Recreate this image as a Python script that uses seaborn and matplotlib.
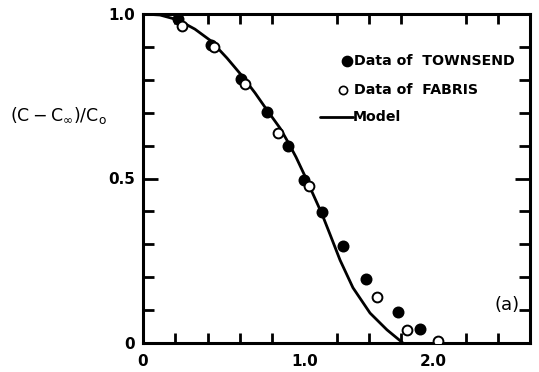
import matplotlib
matplotlib.use("Agg")
import matplotlib.pyplot as plt
from matplotlib import font_manager
import seaborn as sns
import pandas as pd
import numpy as np

# Data of TOWNSEND (filled)
townsend_x = [0.22, 0.42, 0.61, 0.77, 0.90, 1.00, 1.11, 1.24, 1.38, 1.58, 1.72]
townsend_y = [0.985, 0.906, 0.802, 0.702, 0.599, 0.495, 0.398, 0.295, 0.195, 0.094, 0.043]

# Data of FABRIS (open)
fabris_x = [0.24, 0.44, 0.63, 0.84, 1.03, 1.45, 1.64, 1.83]
fabris_y = [0.964, 0.900, 0.787, 0.638, 0.477, 0.140, 0.040, 0.006]

# Model curve
model_x = [0.0, 0.105, 0.217, 0.322, 0.422, 0.521, 0.614, 0.695, 0.769, 0.850, 0.899,
           0.949, 0.998, 1.054, 1.110, 1.160, 1.222, 1.302, 1.408, 1.513, 1.612]
model_y = [1.0, 0.997, 0.982, 0.954, 0.918, 0.866, 0.812, 0.760, 0.708, 0.653, 0.611,
           0.565, 0.514, 0.453, 0.392, 0.330, 0.252, 0.168, 0.091, 0.040, 0.0]

x_tick_pos = [0.0, 1.0, 1.8]
x_tick_labels = ["0", "1.0", "2.0"]
y_tick_pos = [0.0, 0.5, 1.0]
y_tick_labels = ["0", "0.5", "1.0"]

sns.set_theme(style="ticks")
names = {f.name for f in font_manager.fontManager.ttflist}
cond = "DejaVu Sans Condensed" if "DejaVu Sans Condensed" in names else None
fam = [cond, "DejaVu Sans"] if cond else ["DejaVu Sans"]
plt.rcParams['font.family'] = fam
for k in ["text.color", "axes.labelcolor", "xtick.color", "ytick.color", "axes.edgecolor"]:
    plt.rcParams[k] = "black"

fig = plt.figure(figsize=(5.39, 3.72), dpi=100)
ax = fig.add_axes([143/539, 1-343/372, (530-143)/539, (343-14)/372])

df_t = pd.DataFrame({"x": townsend_x, "y": townsend_y})
df_f = pd.DataFrame({"x": fabris_x, "y": fabris_y})
df_m = pd.DataFrame({"x": model_x, "y": model_y})

sns.lineplot(data=df_m, x="x", y="y", ax=ax, color="black", linewidth=2.0, sort=False)
sns.scatterplot(data=df_t, x="x", y="y", ax=ax, color="black", s=55, edgecolor="black",
                linewidth=1.2, zorder=3)
sns.scatterplot(data=df_f, x="x", y="y", ax=ax, facecolor="white", s=50, edgecolor="black",
                linewidth=1.4, zorder=3)

ax.set_xlim(0, 2.4)
ax.set_ylim(0, 1.0)
ax.set_xlabel("")
ax.set_ylabel("")

for sp in ax.spines.values():
    sp.set_visible(True)
    sp.set_linewidth(2.2)
    sp.set_color("black")

ax.set_xticks(x_tick_pos)
ax.set_xticklabels(x_tick_labels)
ax.set_xticks(np.arange(0.2, 2.4, 0.2), minor=True)
ax.set_yticks(y_tick_pos)
ax.set_yticklabels(y_tick_labels)
ax.set_yticks(np.arange(0.1, 1.0, 0.1), minor=True)

lab_fs = 12 if cond else 11
ax.tick_params(axis="both", which="both", direction="in", top=True, right=True,
               width=2.0, color="black", labelsize=lab_fs, labelcolor="black")
ax.tick_params(axis="y", which="major", length=11, pad=6)
ax.tick_params(axis="y", which="minor", length=8)
ax.tick_params(axis="x", which="major", length=0, pad=8)
ax.tick_params(axis="x", which="minor", length=7)
for lab in ax.get_xticklabels() + ax.get_yticklabels():
    lab.set_fontweight("bold")

# legend drawn manually
fs = 12 if cond else 10.2
ax.scatter([1.264], [0.858], s=55, color="black", zorder=4, clip_on=False)
ax.text(1.31, 0.858, "Data of  TOWNSEND", fontsize=fs, fontweight="bold", va="center",
        ha="left")
ax.scatter([1.24], [0.770], s=35, facecolor="white", edgecolor="black", linewidth=1.2, zorder=4)
ax.text(1.31, 0.770, "Data of  FABRIS", fontsize=fs, fontweight="bold", va="center", ha="left")
ax.plot([1.10, 1.30], [0.688, 0.688], color="black", linewidth=2.0)
ax.text(1.30, 0.688, "Model", fontsize=fs, fontweight="bold", va="center", ha="left")

ax.text(2.18, 0.117, "(a)", fontsize=13, va="center", ha="left")

fig.text(10/539, 1-115/372, r"$(\mathrm{C}-\mathrm{C}_{\infty})/\mathrm{C}_{\mathrm{o}}$",
         fontsize=12.5, va="center", ha="left")

fig.savefig("out.png", dpi=100)
